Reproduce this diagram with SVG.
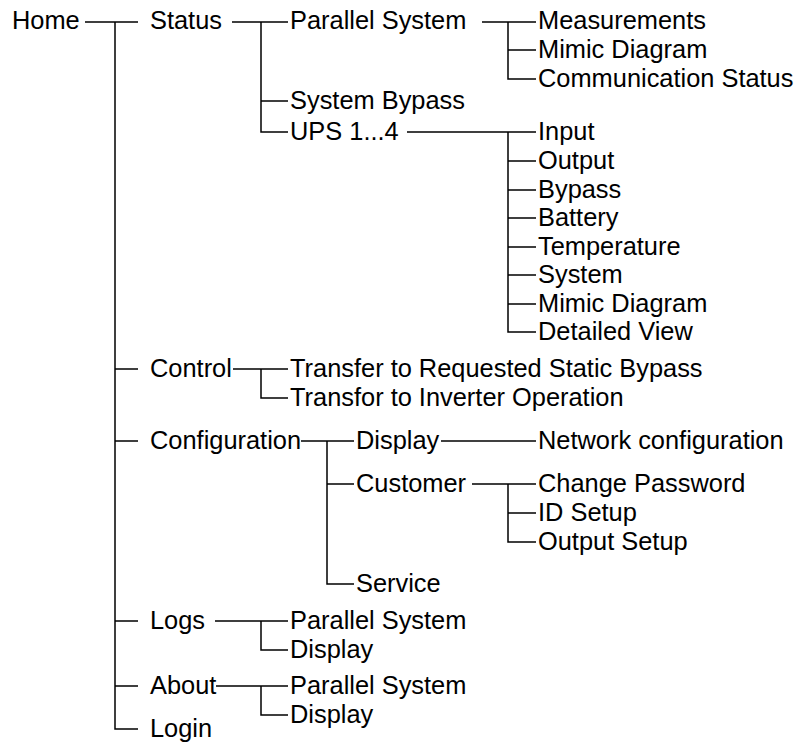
<svg xmlns="http://www.w3.org/2000/svg" width="800" height="742" viewBox="0 0 800 742">
<style>
text{font-family:"Liberation Sans",Arial,sans-serif;font-size:25.4px;fill:#000}
.c path{fill:none;stroke:#000;stroke-width:1.5}
</style>
<rect width="800" height="742" fill="#fff"/>
<g class="c" id="connectors">
<path d="M85,22H138M115,22V729H138M115,369H138M115,441H138M115,621H138M115,686H138"/>
<path d="M232,22H288M261,22V132H288M261,101H288"/>
<path d="M482,22H536M508,22V79H536M508,50H536"/>
<path d="M407,132H536M508,132V332H536M508,161H536M508,190H536M508,218H536M508,247H536M508,275H536M508,304H536"/>
<path d="M233,369H288M261,369V398H288"/>
<path d="M301,441H354M327,441V584H354M327,484H354"/>
<path d="M441,441H536"/>
<path d="M472,484H536M508,484V542H536M508,513H536"/>
<path d="M215,621H288M261,621V650H288"/>
<path d="M216,686H288M261,686V715H288"/>
</g>
<g id="n-home"><text x="12" y="29">Home</text></g>
<g id="n-status"><text x="150" y="29">Status</text></g>
<g id="n-status-parallel"><text x="290" y="29">Parallel System</text></g>
<g id="n-measurements"><text x="538" y="29">Measurements</text></g>
<g id="n-ps-mimic"><text x="538" y="58">Mimic Diagram</text></g>
<g id="n-comm-status"><text x="538" y="87">Communication Status</text></g>
<g id="n-system-bypass"><text x="290" y="109">System Bypass</text></g>
<g id="n-ups"><text x="290" y="140">UPS 1...4</text></g>
<g id="n-input"><text x="538" y="140">Input</text></g>
<g id="n-output"><text x="538" y="169">Output</text></g>
<g id="n-bypass"><text x="538" y="198">Bypass</text></g>
<g id="n-battery"><text x="538" y="226">Battery</text></g>
<g id="n-temperature"><text x="538" y="255">Temperature</text></g>
<g id="n-system"><text x="538" y="283">System</text></g>
<g id="n-ups-mimic"><text x="538" y="312">Mimic Diagram</text></g>
<g id="n-detailed"><text x="538" y="340">Detailed View</text></g>
<g id="n-control"><text x="150" y="377">Control</text></g>
<g id="n-transfer-bypass"><text x="290" y="377">Transfer to Requested Static Bypass</text></g>
<g id="n-transfer-inverter"><text x="290" y="406">Transfor to Inverter Operation</text></g>
<g id="n-configuration"><text x="150" y="449">Configuration</text></g>
<g id="n-config-display"><text x="356" y="449">Display</text></g>
<g id="n-network"><text x="538" y="449">Network configuration</text></g>
<g id="n-customer"><text x="356" y="492">Customer</text></g>
<g id="n-change-password"><text x="538" y="492">Change Password</text></g>
<g id="n-id-setup"><text x="538" y="521">ID Setup</text></g>
<g id="n-output-setup"><text x="538" y="550">Output Setup</text></g>
<g id="n-service"><text x="356" y="592">Service</text></g>
<g id="n-logs"><text x="150" y="629">Logs</text></g>
<g id="n-logs-parallel"><text x="290" y="629">Parallel System</text></g>
<g id="n-logs-display"><text x="290" y="658">Display</text></g>
<g id="n-about"><text x="150" y="694">About</text></g>
<g id="n-about-parallel"><text x="290" y="694">Parallel System</text></g>
<g id="n-about-display"><text x="290" y="723">Display</text></g>
<g id="n-login"><text x="150" y="737">Login</text></g>
</svg>
